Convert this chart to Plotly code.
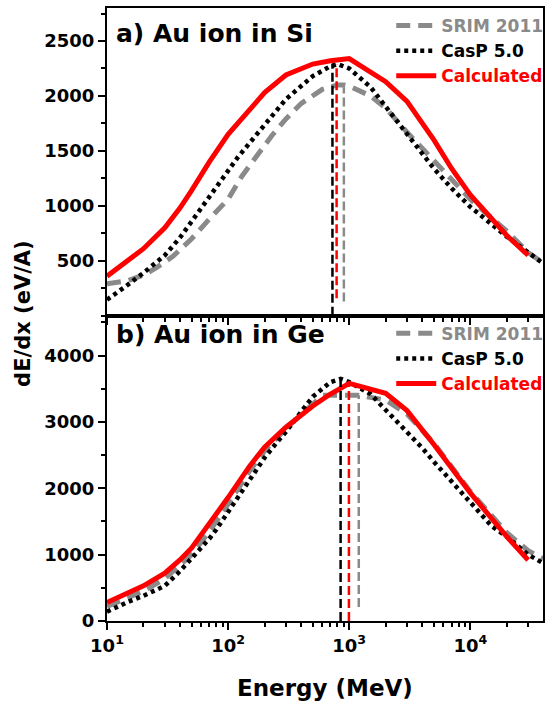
import plotly.graph_objects as go

# ---------------- data: Au ion in Si (top panel) ----------------
E_srim_si = [10, 15, 20, 25, 35, 50, 70, 100, 130, 180, 230, 300, 400, 600, 800, 900, 1000, 1500, 2000, 3000, 5000, 7000, 10000, 20000, 30000, 40000]
srim_si = [290, 320, 370, 430, 540, 700, 880, 1060, 1270, 1480, 1640, 1790, 1930, 2060, 2100, 2100, 2090, 2000, 1890, 1670, 1410, 1250, 1060, 770, 575, 480]

E_casp_si = [10, 12, 15, 20, 25, 30, 40, 50, 60, 70, 80, 100, 120, 150, 200, 300, 500, 700, 800, 1000, 1500, 2000, 3000, 5000, 7000, 10000, 20000, 30000, 40000]
casp_si = [145, 206, 285, 390, 480, 550, 710, 860, 990, 1090, 1180, 1330, 1440, 1570, 1740, 1970, 2180, 2270, 2290, 2250, 2080, 1900, 1650, 1340, 1160, 990, 720, 580, 475]

E_calc_si = [10, 15, 20, 30, 40, 50, 70, 100, 150, 200, 300, 500, 700, 1000, 2000, 3000, 5000, 7000, 10000, 20000, 30000]
calc_si = [360, 500, 610, 800, 980, 1140, 1400, 1650, 1880, 2030, 2190, 2290, 2320, 2340, 2130, 1950, 1600, 1340, 1100, 730, 550]

# peak markers (energy, top value, bottom value): CasP, Calculated, SRIM
peak_E_si = [727, 787, 903]
peak_top_si = [2290, 2290, 2080]
peak_bot_si = [0, 160, 130]

# ---------------- data: Au ion in Ge (bottom panel) ----------------
E_srim_ge = [10, 15, 20, 30, 50, 70, 100, 150, 200, 300, 500, 600, 800, 1000, 1200, 2000, 3000, 5000, 7000, 10000, 20000, 30000, 40000]
srim_ge = [220, 360, 450, 640, 1000, 1350, 1760, 2260, 2560, 2900, 3280, 3400, 3400, 3400, 3400, 3330, 3120, 2680, 2330, 1950, 1330, 1060, 940]

E_casp_ge = [10, 12, 15, 20, 25, 30, 40, 50, 60, 70, 80, 100, 130, 160, 200, 250, 300, 400, 500, 700, 850, 1000, 1500, 2000, 3000, 4000, 5000, 7000, 10000, 15000, 20000, 30000, 40000]
casp_ge = [140, 210, 290, 380, 470, 530, 750, 940, 1100, 1240, 1380, 1640, 1950, 2210, 2460, 2680, 2850, 3150, 3380, 3600, 3650, 3600, 3420, 3180, 2860, 2610, 2400, 2100, 1800, 1430, 1270, 1000, 870]

E_calc_ge = [10, 15, 20, 30, 40, 50, 70, 100, 150, 200, 300, 500, 700, 1000, 2000, 3000, 5000, 7000, 10000, 20000, 30000]
calc_ge = [280, 420, 530, 720, 920, 1100, 1460, 1860, 2330, 2620, 2920, 3240, 3420, 3580, 3430, 3170, 2660, 2320, 1930, 1270, 920]

peak_E_ge = [849, 994, 1199]
peak_top_ge = [3650, 3580, 3400]
peak_bot_ge = [0, 0, 210]

series_names = ["SRIM 2011", "CasP 5.0", "Calculated"]
x_tickvals = [10, 100, 1000, 10000]
x_ticktext = ["10<sup>1</sup>", "10<sup>2</sup>", "10<sup>3</sup>", "10<sup>4</sup>"]

GRAY = "#8a8a8a"
RED = "#ff0000"
BLACK = "#000000"
FONT = "DejaVu Sans"

fig = go.Figure()

def add_panel(xa, ya, legend, E_s, v_s, E_c, v_c, E_k, v_k, pE, ptop, pbot):
    fig.add_trace(go.Scatter(x=E_s, y=v_s, mode="lines", xaxis=xa, yaxis=ya, legend=legend,
                             name=f"<span style='color:{GRAY}'>{series_names[0]}</span>", legendgroup=legend + "s",
                             line=dict(color=GRAY, width=5, dash="14px,8px")))
    fig.add_trace(go.Scatter(x=E_c, y=v_c, mode="lines", xaxis=xa, yaxis=ya, legend=legend,
                             name=f"<span style='color:{BLACK}'>{series_names[1]}</span>", legendgroup=legend + "c",
                             line=dict(color=BLACK, width=4.5, dash="4px,4px")))
    fig.add_trace(go.Scatter(x=E_k, y=v_k, mode="lines", xaxis=xa, yaxis=ya, legend=legend,
                             name=f"<span style='color:{RED}'>{series_names[2]}</span>", legendgroup=legend + "k",
                             line=dict(color=RED, width=5)))
    for e, t, b, c in zip(pE, ptop, pbot, [BLACK, RED, GRAY]):
        fig.add_trace(go.Scatter(x=[e, e], y=[b, t], mode="lines", xaxis=xa, yaxis=ya, showlegend=False,
                                 hoverinfo="skip", line=dict(color=c, width=2.5, dash="9px,4px")))

add_panel("x", "y", "legend", E_srim_si, srim_si, E_casp_si, casp_si, E_calc_si, calc_si,
          peak_E_si, peak_top_si, peak_bot_si)
add_panel("x2", "y2", "legend2", E_srim_ge, srim_ge, E_casp_ge, casp_ge, E_calc_ge, calc_ge,
          peak_E_ge, peak_top_ge, peak_bot_ge)

split = 0.498
axis_common = dict(showline=True, linecolor="black", linewidth=2, mirror=True,
                   ticks="outside", ticklen=7, tickwidth=1.5, tickcolor="black",
                   showgrid=False, zeroline=False)
x_common = dict(type="log", range=[1, 4.6], tickvals=x_tickvals, ticktext=x_ticktext,
                minor=dict(ticks="outside", ticklen=4, tickwidth=1.5, tickcolor="black", dtick="D1", showgrid=False),
                **axis_common)
tickfont = dict(size=18, family=FONT, weight="bold", color="black")
legfont = dict(size=17, family=FONT, weight="bold")

fig.update_layout(
    width=555, height=703,
    margin=dict(l=107, r=7, t=8, b=82),
    paper_bgcolor="white", plot_bgcolor="white",
    font=dict(family=FONT, color="black", weight="bold"),
    xaxis=dict(domain=[0, 1], anchor="y", showticklabels=False, **x_common),
    yaxis=dict(domain=[split, 1], anchor="x", range=[0, 2800],
               tickvals=[500, 1000, 1500, 2000, 2500], tickfont=tickfont,
               minor=dict(ticks="outside", ticklen=4, tickwidth=1.5, tickcolor="black", dtick=250, tick0=0, showgrid=False),
               **axis_common),
    xaxis2=dict(domain=[0, 1], anchor="y2", tickfont=tickfont, **x_common),
    yaxis2=dict(domain=[0, split], anchor="x2", range=[0, 4600], dtick=1000, tick0=0, tickfont=tickfont,
                minor=dict(ticks="outside", ticklen=4, tickwidth=1.5, tickcolor="black", dtick=500, tick0=0, showgrid=False),
                **axis_common),
    legend=dict(x=1.012, xanchor="right", y=1.0, yanchor="top", bgcolor="rgba(0,0,0,0)",
                font=legfont, tracegroupgap=0, itemwidth=40, traceorder="normal"),
    legend2=dict(x=1.012, xanchor="right", y=split, yanchor="top", bgcolor="rgba(0,0,0,0)",
                 font=legfont, tracegroupgap=0, itemwidth=40, traceorder="normal"),
    showlegend=True,
)

fig.add_annotation(text="a) Au ion in Si", xref="paper", yref="paper", x=0.015, y=0.9576,
                   xanchor="left", yanchor="middle", showarrow=False,
                   font=dict(size=25, family=FONT, weight="bold", color="black"))
fig.add_annotation(text="b) Au ion in Ge", xref="paper", yref="paper", x=0.015, y=0.4666,
                   xanchor="left", yanchor="middle", showarrow=False,
                   font=dict(size=25, family=FONT, weight="bold", color="black"))
fig.add_annotation(text="dE/dx (eV/A)", xref="paper", yref="paper", x=-0.193, y=0.5024,
                   xanchor="center", yanchor="middle", textangle=-90, showarrow=False,
                   font=dict(size=21, family=FONT, weight="bold", color="black"))
fig.add_annotation(text="Energy (MeV)", xref="paper", yref="paper", x=0.5, y=-0.109,
                   xanchor="center", yanchor="middle", showarrow=False,
                   font=dict(size=23, family=FONT, weight="bold", color="black"))

fig.write_html("out.html")
